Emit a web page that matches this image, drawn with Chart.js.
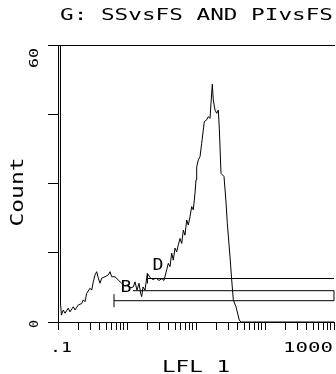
<!DOCTYPE html>
<html>
<head>
<meta charset="utf-8">
<script src="https://cdn.jsdelivr.net/npm/chart.js@4.4.1/dist/chart.umd.min.js"></script>
<style>
  html, body { margin: 0; padding: 0; background: #fff; }
  canvas { display: block; }
</style>
</head>
<body>
<canvas id="hist" width="336" height="374"></canvas>
<script>
// histogram trace (LFL 1 channel value, count)
const lflValues = [
  0.1, 0.1085, 0.1087, 0.112, 0.1194, 0.1263, 0.141, 0.1492, 0.1666, 0.1764, 0.1969,
  0.2206, 0.2326, 0.2462, 0.2606, 0.291, 0.3079, 0.3248, 0.3438, 0.3639, 0.3838,
  0.4062, 0.4299, 0.48, 0.5358, 0.5671, 0.6002, 0.6702, 0.748, 0.838, 0.9355,
  1.034, 1.143, 1.234, 1.306, 1.396, 1.493, 1.578, 1.633, 1.706, 1.824,
  1.97, 2.05, 2.154, 2.382, 2.632, 2.911, 3.214, 3.436, 3.762, 3.968,
  4.2, 4.444, 4.688, 4.963, 5.252, 5.541, 5.863, 6.206, 6.546, 6.928,
  7.332, 7.734, 8.185, 8.663, 9.14, 9.672, 10.0, 10.235, 10.8, 11.43,
  12.09, 12.76, 13.19, 14.29, 15.08, 15.96, 16.5, 17.23, 17.81, 18.86,
  19.95, 21.05, 21.77, 23.03, 25.46, 27.22, 28.42, 31.11, 32.92, 34.72,
  37.99, 42.42, 44.9, 1000
];
const counts = [
  75, 75, 4.0, 1.5, 2.6, 1.9, 3.0, 2.2, 3.3, 2.6, 3.7,
  4.0, 4.8, 4.4, 6.2, 7.3, 6.9, 8.7, 10.2, 10.9, 9.5,
  8.4, 9.5, 9.8, 10.2, 10.9, 9.8, 9.8, 9.1, 8.4, 7.8,
  8.0, 7.4, 7.6, 8.7, 6.9, 8.4, 6.2, 5.5, 7.6, 6.9,
  10.5, 10.2, 9.6, 9.2, 9.5, 9.0, 9.4, 9.0, 11.3, 12.7,
  12.0, 14.9, 13.4, 16.0, 15.2, 16.7, 18.1, 17.0, 19.9, 18.8,
  22.1, 21.0, 22.8, 25.0, 24.3, 27.9, 30.8, 33.6, 35.1, 35.8,
  38.7, 41.6, 43.4, 43.8, 44.5, 44.1, 47.4, 51.5, 48.1, 45.9,
  45.2, 45.9, 42.0, 32.2, 31.5, 26.0, 21.4, 14.1, 9.1, 4.8,
  3.3, 0.4, 0, 0
];

// gate markers: start value, level, end value
const gateNames = ['D', 'B', ''];
const gateStart = [1.98, 1.22, 0.648];
const gateLevel = [9.42, 6.78, 4.61];
const gateEnd = [1000, 1000, 1000];
const gateLabelX = [2.81, 0.967];
const gateLabelY = [11.26, 6.5];

const xTickValues = [
  0.1, 0.2, 0.3, 0.4, 0.5, 0.6, 0.7, 0.8, 0.9,
  1, 2, 3, 4, 5, 6, 7, 8, 9,
  10, 20, 30, 40, 50, 60, 70, 80, 90,
  100, 200, 300, 400, 500, 600, 700, 800, 900, 1000
];
const xTickLabels = ['.1', '1000'];
const xLabelValues = [0.1, 1000];
const yTickValues = [0, 15, 30, 45, 60];
const yTickLabels = ['0', '60'];
const yLabelValues = [0, 60];

const titleText = 'G: SSvsFS AND PIvsFS';
const xTitle = 'LFL 1';
const yTitle = 'Count';

const FONT = '"DejaVu Sans Mono", monospace';

// draws text stretched to a given width (the original uses a wide plotter font)
function stretched(ctx, text, x, y, size, width, angle) {
  ctx.save();
  ctx.translate(x, y);
  ctx.rotate(angle || 0);
  ctx.font = size + 'px ' + FONT;
  const w = ctx.measureText(text).width;
  ctx.scale(width / w, 1);
  ctx.textAlign = 'center';
  ctx.textBaseline = 'alphabetic';
  ctx.fillStyle = '#000';
  ctx.fillText(text, 0, 0);
  ctx.restore();
}

const textPlugin = {
  id: 'plotterText',
  afterDraw(chart) {
    const ctx = chart.ctx;
    const xs = chart.scales.x;
    const ys = chart.scales.y;

    stretched(ctx, titleText, 196.5, 20, 16, 273);

    // x tick labels
    const x0 = xs.getPixelForValue(xLabelValues[0]);
    stretched(ctx, xTickLabels[0], x0 + 3, 352, 14, 22);
    const x1 = xs.getPixelForValue(xLabelValues[1]);
    stretched(ctx, xTickLabels[1], x1 - 26, 352, 14, 50);
    stretched(ctx, xTitle, 196, 372, 16, 68);

    // y tick labels, rotated
    const y0 = ys.getPixelForValue(yLabelValues[0]);
    stretched(ctx, yTickLabels[0], 38, y0 + 2, 13, 8, -Math.PI / 2);
    const y1 = ys.getPixelForValue(yLabelValues[1]);
    stretched(ctx, yTickLabels[1], 38, y1 + 13, 13, 20, -Math.PI / 2);
    stretched(ctx, yTitle, 23, 192, 17, 69, -Math.PI / 2);

    // gate letters
    gateLabelX.forEach((v, i) => {
      stretched(ctx, gateNames[i], xs.getPixelForValue(v), ys.getPixelForValue(gateLabelY[i]), 16, 11);
    });
  }
};

const histPoints = lflValues.map((v, i) => ({ x: v, y: counts[i] }));

const gateSets = gateStart.map((s, i) => {
  const pts = [{ x: s, y: gateLevel[i] }, { x: gateEnd[i], y: gateLevel[i] }];
  let radius = [5, 0];
  if (i === 2) {
    // bottom gate has a closing bar up to the middle one on the right
    pts.push({ x: gateEnd[i], y: gateLevel[1] });
    radius = [6.5, 0, 0];
  }
  if (i === 1) radius = [0, 0];
  return {
    data: pts,
    borderColor: '#000',
    borderWidth: 1,
    pointStyle: 'line',
    pointRotation: 90,
    pointRadius: radius,
    pointBorderColor: '#000',
    pointBorderWidth: 1,
    tension: 0,
    clip: 4
  };
});

new Chart(document.getElementById('hist'), {
  type: 'line',
  data: {
    datasets: [
      {
        data: histPoints,
        borderColor: '#000',
        borderWidth: 1,
        pointRadius: 0,
        tension: 0
      },
      ...gateSets
    ]
  },
  options: {
    responsive: false,
    animation: false,
    devicePixelRatio: 1,
    // autoPadding off, otherwise the gate end bars push the right edge in
    layout: { autoPadding: false, padding: { top: 45, left: 48, right: 2, bottom: 0 } },
    plugins: { legend: { display: false }, tooltip: { enabled: false }, title: { display: false } },
    scales: {
      x: {
        type: 'logarithmic',
        min: 0.1,
        max: 1000,
        afterBuildTicks: (s) => { s.ticks = xTickValues.map(v => ({ value: v })); },
        afterFit: (s) => { s.height = 52; },
        ticks: { display: false },
        grid: { display: true, drawOnChartArea: false, tickLength: 8, color: '#000', lineWidth: 1 },
        border: { display: true, color: '#000', width: 1 }
      },
      xTop: {
        type: 'linear',
        position: 'top',
        afterFit: (s) => { s.height = 0; },
        ticks: { display: false },
        grid: { display: false },
        border: { display: true, color: '#000', width: 1 }
      },
      y: {
        type: 'linear',
        min: 0,
        max: 60,
        afterBuildTicks: (s) => { s.ticks = yTickValues.map(v => ({ value: v })); },
        afterFit: (s) => { s.width = 10; },
        ticks: { display: false },
        grid: { display: true, drawOnChartArea: false, tickLength: 10, color: '#000', lineWidth: 1 },
        border: { display: true, color: '#000', width: 1 }
      }
    }
  },
  plugins: [textPlugin]
});
</script>
</body>
</html>
